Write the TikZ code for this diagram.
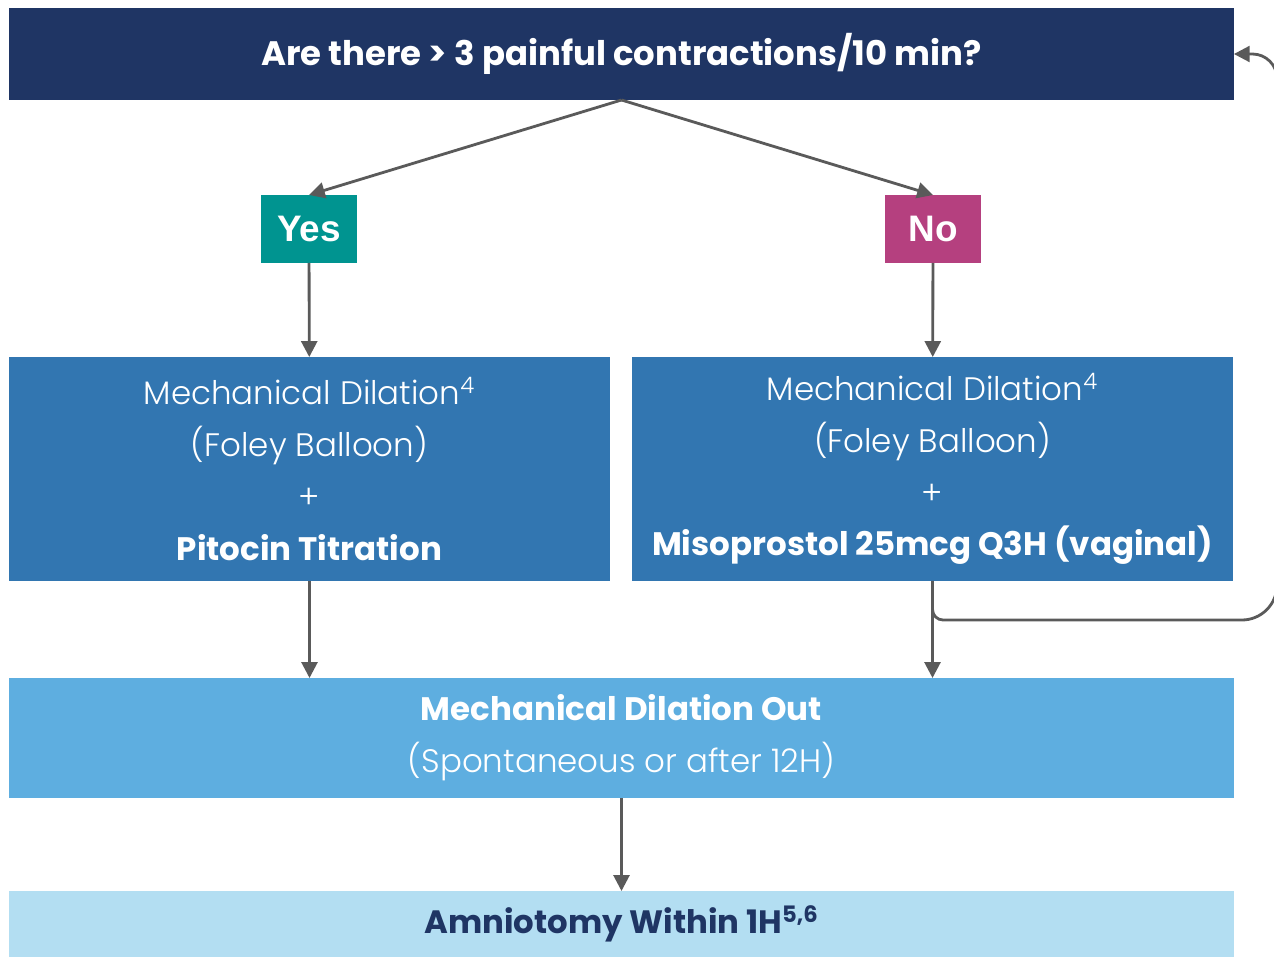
\documentclass[tikz,border=0pt]{standalone}
\usepackage{fontspec}
\setmainfont{Poppins}
\newfontfamily\leggero{Poppins Light}
\newfontfamily\arialb{Liberation Sans}
\usetikzlibrary{arrows.meta}
\definecolor{navy}{HTML}{1F3564}
\definecolor{teal}{HTML}{009490}
\definecolor{magenta}{HTML}{B5407F}
\definecolor{blu}{HTML}{3276B1}
\definecolor{celeste}{HTML}{5EAEE0}
\definecolor{azzurro}{HTML}{B3DEF2}
\definecolor{freccia}{HTML}{5A5A5A}
\begin{document}
\begin{tikzpicture}[x=0.02cm, y=-0.02cm,
	box/.style={inner sep=0pt, outer sep=0pt, align=center, text=white},
	scelta/.style={box, minimum width=1.92cm, minimum height=1.36cm, font=\arialb\bfseries\fontsize{21}{24}\selectfont},
	passo/.style={box, fill=blu, minimum width=12.02cm, minimum height=4.48cm, font=\leggero\fontsize{18.5}{29.5}\selectfont},
	moto/.style={-{Triangle[length=9pt, width=9pt]}, line width=1.6pt, freccia}]

	\useasboundingbox (0,0) rectangle (1274,957);

	%% --- domanda iniziale ---
	\node[box, fill=navy, minimum width=24.5cm, minimum height=1.84cm,
		font=\bfseries\fontsize{19.3}{22}\selectfont] (domanda) at (621.5,54)
		{Are there > 3 painful contractions/10 min?};

	%% --- risposte ---
	\node[scelta, fill=teal] (si) at (309,229) {Yes};
	\node[scelta, fill=magenta] (no) at (933,229) {No};

	%% --- due percorsi ---
	\node[passo] (sinistra) at (309.5,469)
		{Mechanical Dilation\textsuperscript{4}\\(Foley Balloon)\\+\\
		 {\rmfamily\bfseries Pitocin Titration}};
	\node[passo] (destra) at (932.5,469)
		{Mechanical Dilation\textsuperscript{4}\\(Foley Balloon)\\+\\
		 {\rmfamily\bfseries Misoprostol 25mcg Q3H (vaginal)}};

	%% --- uscita e amniotomia ---
	\node[box, fill=celeste, minimum width=24.5cm, minimum height=2.4cm,
		font=\leggero\fontsize{18.5}{29.5}\selectfont] (uscita) at (621.5,738)
		{{\rmfamily\bfseries Mechanical Dilation Out}\\(Spontaneous or after 12H)};
	\node[box, fill=azzurro, text=navy, minimum width=24.5cm, minimum height=1.32cm,
		font=\bfseries\fontsize{18.4}{20}\selectfont] (amnio) at (621.5,924)
		{Amniotomy Within 1H\textsuperscript{5,6}};

	%% --- frecce ---
	\draw[moto] (domanda.south) -- (si.north);
	\draw[moto] (domanda.south) -- (no.north);
	\draw[moto] (si) -- (sinistra);
	\draw[moto] (no) -- (destra);
	\draw[moto] (sinistra.south) -- (uscita.north -| sinistra.south);
	\draw[moto] (destra.south) -- (uscita.north -| destra.south);
	\draw[moto] (uscita) -- (amnio);

	%% --- ritorno alla domanda (esce dal bordo) ---
	\coordinate (giro) at (1277,620);
	\draw[moto] (destra.south) [rounded corners=6pt] -- (destra.south |- giro)
		[rounded corners=20pt] -- (giro) [rounded corners=14pt] |- (domanda.east);

\end{tikzpicture}
\end{document}
